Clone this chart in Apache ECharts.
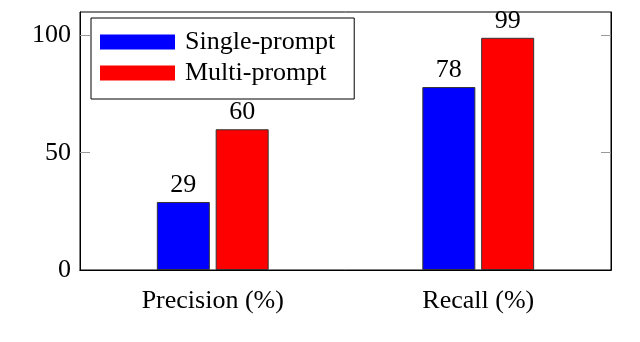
<!DOCTYPE html>
<html>
<head>
<meta charset="utf-8">
<script src="https://cdn.jsdelivr.net/npm/echarts@6/dist/echarts.min.js"></script>
<style>
  html, body { margin: 0; padding: 0; background: #fff; }
  #chart { width: 640px; height: 342px; }
</style>
</head>
<body>
<div id="chart"></div>
<script>
var categories = ['Precision (%)', 'Recall (%)'];
var singlePrompt = [29, 78];
var multiPrompt = [60, 99];
var yLabels = [0, 50, 100];
var yTicks = [50, 100];

var font = '"Liberation Serif", "DejaVu Serif", serif';

var chartDom = document.getElementById('chart');
var myChart = echarts.init(chartDom, null, { renderer: 'canvas' });

var option = {
  animation: false,
  textStyle: { fontFamily: font },
  grid: {
    left: 80, right: 29, top: 12, bottom: 72,
    show: true, borderColor: '#000', borderWidth: 1
  },
  legend: {
    orient: 'vertical',
    left: 91, top: 18,
    padding: [11, 19, 13, 9],
    itemGap: 5,
    itemWidth: 75,
    itemHeight: 15,
    borderColor: '#000',
    borderWidth: 1,
    backgroundColor: '#fff',
    icon: 'rect',
    itemStyle: { borderWidth: 0 },
    textStyle: { fontFamily: font, fontSize: 26, color: '#000', padding: [0, 0, 0, 5] },
    data: ['Single-prompt', 'Multi-prompt']
  },
  xAxis: [
    {
      type: 'category',
      data: categories,
      axisLine: { lineStyle: { color: '#000', width: 1 } },
      axisTick: { alignWithLabel: true, length: 10, lineStyle: { color: '#999' } },
      axisLabel: { fontFamily: font, fontSize: 26, color: '#000', margin: 18 }
    },
    {
      type: 'category',
      position: 'top',
      data: categories,
      axisLine: { lineStyle: { color: '#000', width: 1 } },
      axisTick: { alignWithLabel: true, length: 10, lineStyle: { color: '#999' } },
      axisLabel: { show: false }
    }
  ],
  yAxis: [
    {
      type: 'value',
      min: 0, max: 110, interval: 50,
      splitLine: { show: false },
      axisLine: { show: true, lineStyle: { color: '#000', width: 1 } },
      axisTick: { show: true, inside: true, length: 10, customValues: yTicks, lineStyle: { color: '#999' } },
      axisLabel: { fontFamily: font, fontSize: 26, color: '#000', margin: 9, customValues: yLabels }
    },
    {
      type: 'value',
      position: 'right',
      min: 0, max: 110, interval: 50,
      splitLine: { show: false },
      axisLine: { show: true, lineStyle: { color: '#000', width: 1 } },
      axisTick: { show: true, inside: true, length: 10, customValues: yTicks, lineStyle: { color: '#999' } },
      axisLabel: { show: false }
    }
  ],
  series: [
    {
      name: 'Single-prompt',
      type: 'bar',
      data: singlePrompt,
      barWidth: 53,
      barGap: '11%',
      itemStyle: { color: '#0000ff', borderColor: '#333', borderWidth: 1 },
      label: { show: true, position: 'top', distance: 4, fontFamily: font, fontSize: 26, color: '#000' }
    },
    {
      name: 'Multi-prompt',
      type: 'bar',
      data: multiPrompt,
      barWidth: 53,
      barGap: '11%',
      itemStyle: { color: '#ff0000', borderColor: '#333', borderWidth: 1 },
      label: { show: true, position: 'top', distance: 4, fontFamily: font, fontSize: 26, color: '#000' }
    }
  ]
};

option && myChart.setOption(option);
</script>
</body>
</html>
